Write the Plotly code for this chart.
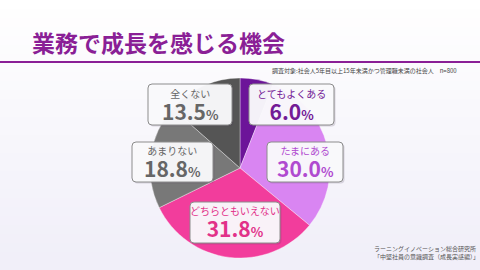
import plotly.graph_objects as go

# ---- data ----
categories = ["とてもよくある", "たまにある", "どちらともいえない", "あまりない", "全くない"]
values = [6.0, 30.0, 31.8, 18.8, 13.5]
slice_colors = ["#6c1499", "#d985f2", "#f23d9c", "#787878", "#555555"]
text_colors = ["#731a96", "#b04ad0", "#e23189", "#666666", "#666666"]
title_text = "業務で成長を感じる機会"
subtitle_text = "調査対象:社会人5年目以上15年未満かつ管理職未満の社会人　n=800"
source_lines = ["ラーニングイノベーション総合研究所", "「中堅社員の意識調査（成長実感編）」"]

W, H = 480, 270
FONT = "Noto Sans CJK JP"

# label box geometry in pixels (x0, y0, x1, y1) per category
boxes = [
    (249, 84, 334, 125),
    (267, 142, 343, 182),
    (190, 202, 280, 243),
    (132, 142, 213, 182),
    (148, 84, 232, 125),
]


def px(x):
    return x / W


def py(y):
    return 1 - y / H


def rounded_path(x0, y0, x1, y1, r=4):
    X0, X1 = px(x0), px(x1)
    Y0, Y1 = py(y0), py(y1)  # Y0 top (larger)
    rx, ry = r / W, r / H
    return (f"M {X0+rx},{Y0} L {X1-rx},{Y0} Q {X1},{Y0} {X1},{Y0-ry} "
            f"L {X1},{Y1+ry} Q {X1},{Y1} {X1-rx},{Y1} L {X0+rx},{Y1} "
            f"Q {X0},{Y1} {X0},{Y1+ry} L {X0},{Y0-ry} Q {X0},{Y0} {X0+rx},{Y0} Z")


fig = go.Figure()

cx, cy, R = 240, 168, 90
fig.add_trace(go.Pie(
    labels=categories,
    values=values,
    sort=False,
    direction="clockwise",
    rotation=0,
    marker=dict(colors=slice_colors, line=dict(color="rgba(255,255,255,0.6)", width=0.6)),
    textinfo="none",
    hoverinfo="label+value",
    showlegend=False,
    domain=dict(x=[px(cx - R), px(cx + R)], y=[py(cy + R), py(cy - R)]),
))

shapes = []
# background gradient bands
n = 30
for i in range(n):
    t = i / (n - 1)
    r_ = int(255 - 14 * t)
    g_ = int(255 - 16 * t)
    b_ = int(255 - 6 * t)
    shapes.append(dict(type="rect", xref="paper", yref="paper",
                       x0=0, x1=1, y0=1 - (i + 1) / n, y1=1 - i / n,
                       fillcolor=f"rgb({r_},{g_},{b_})", line=dict(width=0), layer="below"))
# title underline
shapes.append(dict(type="line", xref="paper", yref="paper", x0=0, x1=1,
                   y0=py(62), y1=py(62), line=dict(color="#8a1f96", width=2)))

annotations = []
for cat, val, tc, (x0, y0, x1, y1) in zip(categories, values, text_colors, boxes):
    # soft shadow
    shapes.append(dict(type="path", xref="paper", yref="paper",
                       path=rounded_path(x0 + 1.5, y0 + 1.5, x1 + 1.5, y1 + 1.5),
                       fillcolor="rgba(80,60,90,0.18)", line=dict(width=0)))
    shapes.append(dict(type="path", xref="paper", yref="paper",
                       path=rounded_path(x0, y0, x1, y1),
                       fillcolor="rgba(250,250,252,0.96)",
                       line=dict(color="#8c8c8c", width=1)))
    mx = (x0 + x1) / 2
    my = (y0 + y1) / 2
    txt = (f"<span style='font-size:10px'>{cat}</span><br>"
           f"<b><span style='font-size:21px'>{val:.1f}</span>"
           f"<span style='font-size:13px'>%</span></b>")
    annotations.append(dict(x=px(mx), y=py(my + 1), xref="paper", yref="paper",
                            text=txt, showarrow=False, xanchor="center", yanchor="middle",
                            align="center",
                            font=dict(family=FONT, size=17, color=tc)))

annotations.append(dict(x=px(30), y=py(42), xref="paper", yref="paper",
                        text=f"<b>{title_text}</b>", showarrow=False,
                        xanchor="left", yanchor="middle",
                        font=dict(family=FONT, size=23, color="#8a1f96")))
annotations.append(dict(x=px(459), y=py(70), xref="paper", yref="paper",
                        text=subtitle_text, showarrow=False,
                        xanchor="right", yanchor="middle",
                        font=dict(family=FONT, size=6, color="#444444")))
annotations.append(dict(x=px(372), y=py(252), xref="paper", yref="paper",
                        text="<br>".join(source_lines), showarrow=False,
                        xanchor="left", yanchor="middle", align="left",
                        font=dict(family=FONT, size=6, color="#555555")))

fig.update_layout(
    width=W, height=H,
    margin=dict(l=0, r=0, t=0, b=0),
    paper_bgcolor="#f6f5fb",
    plot_bgcolor="rgba(0,0,0,0)",
    shapes=shapes,
    annotations=annotations,
)

fig.write_html("out.html", config={"displayModeBar": False})
